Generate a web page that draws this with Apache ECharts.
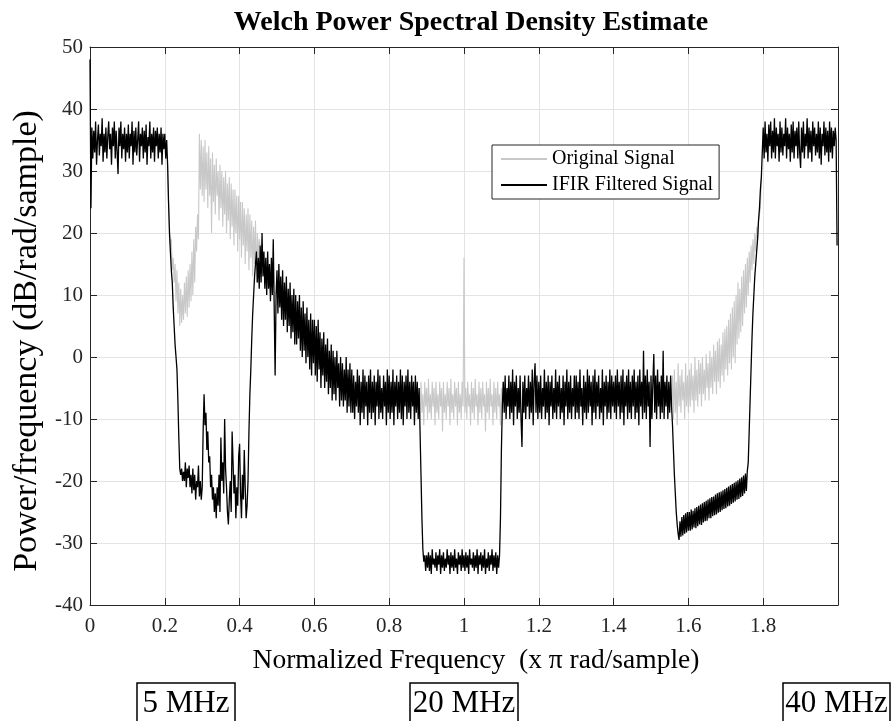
<!DOCTYPE html>
<html>
<head>
<meta charset="utf-8">
<script src="https://cdn.jsdelivr.net/npm/echarts@6/dist/echarts.min.js"></script>
<style>
html,body{margin:0;padding:0;background:#fff;}
#chart{width:892px;height:721px;}
</style>
</head>
<body>
<div id="chart"></div>
<script>
// ---- data ----
const FREQ_STEP = 0.0025; // normalized frequency grid (x pi rad/sample)
const xTicks = [0, 0.2, 0.4, 0.6, 0.8, 1, 1.2, 1.4, 1.6, 1.8];
const yTicks = [-40, -30, -20, -10, 0, 10, 20, 30, 40, 50];
const seriesNames = ['Original Signal', 'IFIR Filtered Signal'];
const bandLabels = ['5 MHz', '20 MHz', '40 MHz'];

// IFIR filtered signal PSD (dB/rad/sample), one value per FREQ_STEP from 0 (40 values per 0.1)
const filtered = [
  // 0.0 - 0.1
  48, 24, 37, 32, 36.5, 33, 38, 31, 35, 37.5, 32.5, 36, 34, 38.5, 31.5, 36, 33, 37, 32, 35.5,
  38, 33.5, 36, 31, 37, 34, 38, 32, 36.5, 33, 29.5, 37, 34, 38, 32, 36, 33.5, 37, 31.5, 36,
  // 0.1 - 0.2
  33, 37.5, 32, 36, 34, 38, 31, 36.5, 33, 37, 32.5, 35, 38, 31.5, 36, 34, 37, 32, 36.5, 33,
  37.5, 31, 35.5, 34, 38, 32, 36, 33, 37, 31.5, 36.5, 34, 37, 32, 36, 33, 37, 31, 36, 33.5,
  // 0.2 - 0.3
  36, 32, 35, 31, 25, 20, 17, 14, 12, 8, 5, 2, 0, -2, -7, -13, -18, -19, -18, -20,
  -18.5, -20, -17, -21, -18, -19.5, -17.5, -21, -19, -22, -18, -21.5, -19, -23, -20, -21, -17.5, -22.5, -20, -23,
  // 0.3 - 0.4
  -21, -12, -6, -11, -9, -15, -12, -17, -16, -21, -19, -23, -21, -25, -22, -26, -21, -24, -19, -25,
  -13, -20, -17, -22, -10, -18, -21, -25, -27, -23, -20, -25, -12, -17, -22, -19, -26, -21, -24, -16,
  // 0.4 - 0.5
  -14, -22, -26, -19, -23, -15, -21, -26, -24, -20, -12, -6, -2, 3, 7, 10, 13, 15, 17, 12,
  16, 11, 18, 12, 20, 13, 17, 11, 16, 10, 17, 11, 15, 9, 16, 10, 19, 8, -3, 10,
  // 0.5 - 0.6
  14, 7, 15, 8, 13, 6, 14, 5, 12, 6, 13, 4, 11, 5, 12, 3, 10, 4, 11, 2,
  10, 2, 9, 3, 10, 1, 8, 0, 9, 1, 7, -1, 8, 0, 6, -2, 7, -3, 6, -1,
  // 0.6 - 0.7
  6, -3, 5, -4, 6, -2, 4, -5, 3, -3, 4, -5, 2, -4, 3, -6, 1, -5, 2, -7,
  1, -6, 0, -7, 1, -5, -1, -8, 0, -7, -1, -8, -2, -7, 0, -9, -2, -8, -1, -9,
  // 0.7 - 0.8
  -2, -9, -3, -10, -4, -8, -2, -9, -3, -11, -4, -9, -2, -10, -3, -8, -4, -11, -3, -9,
  -2, -10, -4, -9, -3, -11, -4, -8, -2, -10, -3, -9, -5, -10, -3, -8, -4, -11, -2, -9,
  // 0.8 - 0.9
  -3, -10, -4, -9, -2, -11, -4, -8, -3, -10, -4, -9, -2, -10, -3, -11, -4, -8, -3, -10,
  -2, -9, -4, -10, -3, -8, -4, -11, -3, -9, -4, -10, -5, -12, -19, -26, -31, -33, -32, -34.5,
  // 0.9 - 1.0
  -32, -34, -31.5, -34.5, -32, -35, -31, -33.5, -32.5, -34, -31.5, -34.5, -32, -33.5, -31, -35, -32, -34, -31.5, -34.5,
  -32.5, -34, -31, -33.5, -32, -35, -31.5, -34, -32, -34.5, -31, -34, -32.5, -35, -31.5, -33.5, -32, -34.5, -31, -34,
  // 1.0 - 1.1
  -32, -34.5, -31.5, -34, -32, -35, -31, -33.5, -32.5, -34, -31.5, -34.5, -32, -34, -31, -35, -32, -33.5, -31.5, -34.5,
  -32, -34, -31, -35, -32.5, -34, -31.5, -34.5, -32, -33.5, -31, -34.5, -32, -34, -31.5, -35, -32, -34, -32, -26,
  // 1.1 - 1.2
  -15, -8, -4, -9, -3, -10, -5, -8, -3, -10, -4, -9, -2, -11, -4, -8, -3, -10, -5, -9,
  -3, -10, -14.5, -4, -9, -3, -10, -5, -8, -3, -10, -4, -9, -2, -11, -4, -1, -9, -3, -10,
  // 1.2 - 1.3
  -4, -9, -3, -10, -5, -8, -2, -10, -4, -9, -3, -11, -4, -8, -3, -10, -5, -9, -2, -10,
  -4, -8, -3, -10, -5, -9, -3, -11, -4, -8, -2, -10, -4, -9, -3, -10, -5, -8, -3, -10,
  // 1.3 - 1.4
  -3, -9, -4, -10, -2, -8, -5, -11, -3, -9, -4, -10, -2, -9, -3, -8, -4, -11, -3, -9,
  -2, -10, -4, -8, -3, -10, -5, -9, -2, -11, -4, -8, -3, -10, -4, -9, -2, -10, -3, -8,
  // 1.4 - 1.5
  -4, -9, -3, -10, -2, -8, -4, -10, -3, -9, -2, -11, -4, -8, -3, -10, -2, -9, -4, -10,
  -3, -8, -2, -10, -4, -9, -3, -11, -2, -8, -4, -10, 1, -9, -3, -10, -2, -8, -4, -14.5,
  // 1.5 - 1.6
  -3, -10, -4, 0.5, -9, -3, -10, -2, -8, -4, -10, -3, -9, 1, -10, -4, -8, -3, -10, -4,
  -9, -3, -8, -11, -15, -19, -22, -25, -27, -28.5, -29.5, -26.5, -29, -25.8, -28.8, -25.5, -28.5, -25.2, -28.3, -25,
  // 1.6 - 1.7
  -28, -25, -28, -24.6, -27.8, -24.8, -27.5, -24.4, -27.6, -24.2, -27.3, -24, -27, -23.8, -27.1, -23.6, -26.7, -23.4, -26.5, -23.2,
  -26.4, -23, -26, -22.8, -26, -22.6, -25.7, -22.5, -25.5, -22.2, -25.4, -22, -25.1, -21.8, -25, -21.7, -24.7, -21.5, -24.5, -21.3,
  // 1.7 - 1.8
  -24.4, -21.1, -24.1, -20.9, -24, -20.7, -23.7, -20.5, -23.5, -20.3, -23.3, -20.1, -23, -19.9, -22.9, -19.6, -22.6, -19.4, -22.4, -19.1,
  -22, -18.8, -21.6, -18.4, -17, -12, -7, -2, 3, 7, 10, 13, 15, 17, 19, 22, 24, 27, 29, 33,
  // 1.8 - 1.9
  37, 32, 38, 33, 36, 31.5, 37.5, 34, 38, 32, 36.5, 33, 38.5, 32, 37, 34, 36, 31.5, 38, 33,
  37, 32.5, 36, 34, 38.5, 32, 37, 33.5, 36, 31.5, 37.5, 33, 38, 32, 36.5, 34, 37, 32, 38, 33,
  // 1.9 - 2.0
  30.5, 37, 33, 38, 32, 36, 34, 38.5, 32, 37, 33, 36.5, 31.5, 38, 34, 37, 32.5, 36, 33, 38,
  32, 37, 31, 36, 34, 38, 32.5, 37, 33, 36.5, 31.5, 38, 33, 37, 32, 36.5, 34, 37, 35, 18
];

// Original signal PSD where it is not hidden under the filtered one.
// Each segment starts at the given grid index (same FREQ_STEP grid).
const originalStart = [83, 352, 622];
const originalA = [
  31, 25, 21, 18, 19, 14, 16, 12, 15, 9, 14, 7, 12, 5, 11, 5.5, 10, 6, 12, 7,
  13, 6.5, 14, 8, 15, 9, 17, 10, 19, 12, 21, 17, 23, 19, 36, 27, 35,
  26, 34, 25, 35, 27, 33, 24, 34, 26, 32,
  20, 33, 25, 31, 23, 32, 26, 30, 22, 31,
  24, 30, 21, 29, 23, 30, 20, 28, 22, 29,
  19, 28, 21, 27, 18, 27, 20, 26, 17, 26,
  19, 25, 16, 25, 18, 24, 15, 23, 17, 24,
  14, 23, 16, 22, 13, 21, 15, 22, 12, 20,
  16, 19, 18
];
const originalB = [
  -5, -10, -4, -9, -6, -11, -4, -8, -5, -10,
  -3.5, -9, -6, -10, -4, -8, -5, -11, -4, -9,
  -6, -10, -4, -8, -5, -12, -4, -9, -6, -10,
  -4, -8, -5, -11, -3.5, -9, -6, -10, -4, -8,
  -5, -11, -4, -9, -6, -10, -4, -8, 16, -9,
  -5, -10, -4, -8, -6, -11, -4, -9, -5, -10,
  -3.5, -8, -6, -11, -4, -9, -5, -10, -4, -8,
  -6, -12, -4, -9, -5, -10, -3.5, -8, -6, -11,
  -4, -9, -5, -10, -4, -8, -6, -11, -5, -9,
  -4
];
const originalC = [
  -8, -3, -10, -2, -9, -4, -11, -1, -8, -3,
  -9, -2, -7, -4, -10, -1, -8, -3, -9, -2,
  -8, -1, -7, -3, -9, 0, -7, -2, -8, -0.5,
  -6, -1, -8, 0, -6, -2, -7, 0.5, -5, -1,
  -7, 1, -5, 0, -6, 2, -4, 1, -6, 2.5,
  -4, 3, -5, 2, -3, 4, -4, 4.5, -2, 5,
  -3, 6, -1, 7, -2, 8, 0, 9, -1, 10,
  2, 12, 3, 11, 4, 13, 5, 14, 7, 15,
  8, 16, 10, 17, 12, 18, 14, 19, 15, 20,
  17, 21, 19, 22, 22, 24, 29
];

// ---- build series data ----
function fx(i) { return +(i * FREQ_STEP).toFixed(5); }
const filteredData = filtered.map((v, i) => [fx(i), v]);
const originalData = [];
[originalA, originalB, originalC].forEach((seg, k) => {
  if (k > 0) originalData.push([fx(originalStart[k] - 1), null]);
  seg.forEach((v, j) => originalData.push([fx(originalStart[k] + j), v]));
});

const FONT = 'Liberation Serif';
const AX = '#262626';
const chart = echarts.init(document.getElementById('chart'), null, {renderer: 'canvas'});

const gridL = 90, gridT = 47, gridW = 748, gridH = 558;

function boxGraphic(label, left, width) {
  return [
    {type: 'rect', shape: {x: left, y: 683, width: width, height: 50},
     style: {fill: '#fff', stroke: '#000', lineWidth: 1.5}, silent: true},
    {type: 'text', x: left + width / 2, y: 704,
     style: {text: label, font: '31px "' + FONT + '"', fill: '#000', textAlign: 'center', textVerticalAlign: 'middle'}, silent: true}
  ];
}

chart.setOption({
  animation: false,
  backgroundColor: '#fff',
  title: {
    text: 'Welch Power Spectral Density Estimate',
    left: 466, top: 4, textAlign: 'center',
    textStyle: {fontFamily: FONT, fontWeight: 'bold', fontSize: 28, color: '#000'}
  },
  legend: {
    data: seriesNames,
    orient: 'vertical',
    left: 492, top: 145,
    backgroundColor: '#fff',
    borderColor: AX, borderWidth: 1,
    padding: [4, 6, 4, 8],
    itemWidth: 46, itemHeight: 2, itemGap: 6,
    textStyle: {fontFamily: FONT, fontSize: 20, color: '#000'}
  },
  grid: {left: gridL, top: gridT, width: gridW, height: gridH, containLabel: false},
  xAxis: [{
    type: 'value', min: 0, max: 2, interval: 0.2,
    name: 'Normalized Frequency  (x \u03c0 rad/sample)',
    nameLocation: 'middle', nameGap: 42,
    nameTextStyle: {fontFamily: FONT, fontSize: 27.5, color: '#000', padding: [0, 0, 0, 24]},
    axisLine: {show: true, onZero: false, lineStyle: {color: AX, width: 1}},
    axisTick: {show: true, inside: true, length: 7, lineStyle: {color: AX}},
    axisLabel: {fontFamily: FONT, fontSize: 21, color: AX, margin: 11, showMaxLabel: false,
      formatter: v => (xTicks.some(t => Math.abs(t - v) < 1e-6) ? String(+v.toFixed(1)) : '')},
    splitLine: {show: true, lineStyle: {color: '#e3e3e3', width: 1}}
  }, {
    type: 'value', min: 0, max: 2, interval: 0.2, position: 'top',
    axisLine: {show: true, onZero: false, lineStyle: {color: AX, width: 1}},
    axisTick: {show: true, inside: true, length: 7, lineStyle: {color: AX}},
    axisLabel: {show: false}, splitLine: {show: false}
  }],
  yAxis: [{
    type: 'value', min: -40, max: 50, interval: 10,
    name: 'Power/frequency (dB/rad/sample)',
    nameLocation: 'middle', nameGap: 40,
    nameTextStyle: {fontFamily: FONT, fontSize: 34, color: '#000', padding: [0, 30, 0, 0]},
    axisLine: {show: true, onZero: false, lineStyle: {color: AX, width: 1}},
    axisTick: {show: true, inside: true, length: 7, lineStyle: {color: AX}},
    axisLabel: {fontFamily: FONT, fontSize: 21, color: AX, margin: 7,
      formatter: v => (yTicks.indexOf(v) >= 0 ? String(v) : '')},
    splitLine: {show: true, lineStyle: {color: '#e3e3e3', width: 1}}
  }, {
    type: 'value', min: -40, max: 50, interval: 10, position: 'right',
    axisLine: {show: true, onZero: false, lineStyle: {color: AX, width: 1}},
    axisTick: {show: true, inside: true, length: 7, lineStyle: {color: AX}},
    axisLabel: {show: false}, splitLine: {show: false}
  }],
  series: [{
    name: seriesNames[0], type: 'line', xAxisIndex: 0, yAxisIndex: 0,
    data: originalData, symbol: 'none', connectNulls: false,
    lineStyle: {color: '#c8c8c8', width: 1.1}, itemStyle: {color: '#c8c8c8'}, z: 2
  }, {
    name: seriesNames[1], type: 'line', xAxisIndex: 0, yAxisIndex: 0,
    data: filteredData, symbol: 'none',
    lineStyle: {color: '#000', width: 1.3}, itemStyle: {color: '#000'}, z: 3
  }],
  graphic: [].concat(
    boxGraphic(bandLabels[0], 137, 98),
    boxGraphic(bandLabels[1], 410, 108),
    boxGraphic(bandLabels[2], 783, 107)
  )
});
</script>
</body>
</html>
